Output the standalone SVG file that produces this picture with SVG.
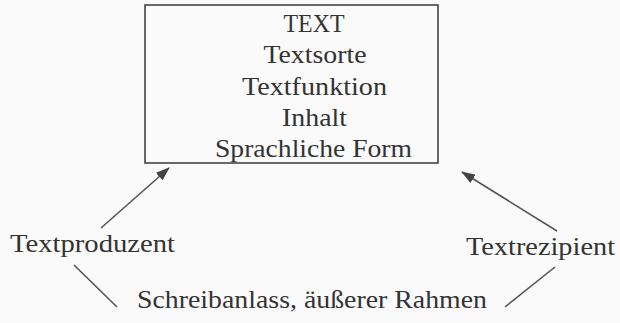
<svg xmlns="http://www.w3.org/2000/svg" width="620" height="323" viewBox="0 0 620 323">
<style>
text{font-family:"Liberation Serif","Times New Roman",serif;font-size:26px;fill:#333;}
.c{text-anchor:middle;}
.ln{stroke:#555;stroke-width:1.6;fill:none;}
.bx{fill:none;stroke:#444;stroke-width:1.6;}
</style>
<defs>
<marker id="ah" markerWidth="14" markerHeight="10" refX="13" refY="5" orient="auto" markerUnits="userSpaceOnUse">
<path d="M0,0 L14,5 L0,10 Z" fill="#444"/>
</marker>
</defs>
<rect width="620" height="323" fill="#fafafa"/>
<g id="text-box">
<rect class="bx" x="145" y="5" width="293" height="158"/>
<text class="c" x="314" y="32" textLength="61" lengthAdjust="spacingAndGlyphs">TEXT</text>
<text class="c" x="315" y="63" textLength="103" lengthAdjust="spacingAndGlyphs">Textsorte</text>
<text class="c" x="314.5" y="95" textLength="145" lengthAdjust="spacingAndGlyphs">Textfunktion</text>
<text class="c" x="314.5" y="126" textLength="65" lengthAdjust="spacingAndGlyphs">Inhalt</text>
<text class="c" x="313.5" y="157" textLength="197" lengthAdjust="spacingAndGlyphs">Sprachliche Form</text>
</g>
<g id="produzent">
<text x="10" y="252" textLength="165" lengthAdjust="spacingAndGlyphs">Textproduzent</text>
</g>
<g id="rezipient">
<text x="466" y="255" textLength="149" lengthAdjust="spacingAndGlyphs">Textrezipient</text>
</g>
<g id="rahmen">
<text x="137" y="308" textLength="350" lengthAdjust="spacingAndGlyphs">Schreibanlass, äußerer Rahmen</text>
</g>
<g id="connectors">
<line class="ln" x1="101" y1="228" x2="169" y2="168" marker-end="url(#ah)"/>
<line class="ln" x1="557" y1="231" x2="462" y2="172" marker-end="url(#ah)"/>
<line class="ln" x1="74" y1="265" x2="117" y2="307"/>
<line class="ln" x1="555" y1="267" x2="505" y2="307"/>
</g>
</svg>
